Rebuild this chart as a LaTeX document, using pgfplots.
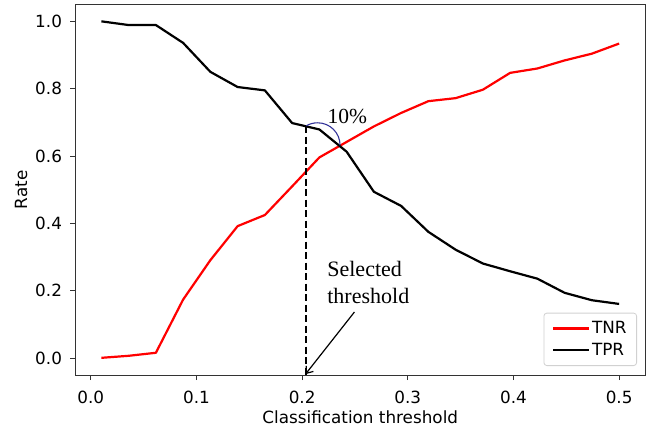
\documentclass[border=0pt]{standalone}
\usepackage{fontspec}
\setmainfont{DejaVu Sans}
\newfontfamily\annfont{Liberation Serif}
\usepackage{pgfplots}
\pgfplotsset{compat=1.18}
\usetikzlibrary{arrows.meta}

\definecolor{arcblue}{rgb}{0.2,0.2,0.6}

\begin{document}
\begin{tikzpicture}
  \begin{axis}[
    scale only axis,
    width=569.5pt, height=370.5pt,
    xmin=-0.0145, xmax=0.5245,
    ymin=-0.05, ymax=1.05,
    xtick={0,0.1,0.2,0.3,0.4,0.5},
    ytick={0,0.2,0.4,0.6,0.8,1.0},
    xticklabel style={/pgf/number format/fixed, /pgf/number format/precision=1, /pgf/number format/fixed zerofill, yshift=-7pt},
    yticklabel style={/pgf/number format/fixed, /pgf/number format/precision=1, /pgf/number format/fixed zerofill, xshift=-5pt},
    /pgf/number format/assume math mode=true,
    tick align=outside, tick pos=left,
    major tick length=5pt,
    every tick/.style={black!80, line width=0.9pt},
    axis line style={black!80, line width=0.9pt},
    ticklabel style={font=\fontsize{16.8}{19}\selectfont},
    label style={font=\fontsize{16.8}{19}\selectfont},
    xlabel={Classification threshold},
    ylabel={Rate},
    xlabel style={at={(axis description cs:0.5,0)}, anchor=base, yshift=-48pt},
    ylabel style={at={(axis description cs:-0.0957,0.5)}, anchor=center},
    legend style={at={(1,0)}, anchor=south east, xshift=-8pt, yshift=9pt,
      rounded corners=3pt, draw=black!18, line width=0.8pt,
      inner xsep=8pt, inner ysep=6.5pt,
      font=\fontsize{16.8}{19}\selectfont, row sep=4pt},
    legend cell align=left,
    legend image code/.code={\draw[#1, line width=2.2pt] (0pt,0pt) -- (36pt,0pt);},
    no markers,
  ]
  \addplot[red, line width=2.2pt, line join=round] coordinates {
    (0.010000,0.001) (0.035789,0.007) (0.061579,0.016) (0.087368,0.174)
    (0.113158,0.291) (0.138947,0.392) (0.164737,0.425) (0.190526,0.510)
    (0.216316,0.596) (0.242105,0.642) (0.267895,0.688) (0.293684,0.728)
    (0.319474,0.763) (0.345263,0.772) (0.371053,0.797) (0.396842,0.847)
    (0.422632,0.860) (0.448421,0.884) (0.474211,0.904) (0.500000,0.934)
  };
  \addlegendentry{TNR}
  \addplot[black, line width=2.2pt, line join=round] coordinates {
    (0.010000,1.000) (0.035789,0.989) (0.061579,0.989) (0.087368,0.936)
    (0.113158,0.850) (0.138947,0.805) (0.164737,0.795) (0.190526,0.698)
    (0.216316,0.679) (0.242105,0.613) (0.267895,0.494) (0.293684,0.452)
    (0.319474,0.375) (0.345263,0.322) (0.371053,0.281) (0.396842,0.258)
    (0.422632,0.236) (0.448421,0.194) (0.474211,0.172) (0.500000,0.161)
  };
  \addlegendentry{TPR}
  % annotations
  \draw[black, line width=2pt, dash pattern=on 7pt off 3.5pt] (axis cs:0.2032,0.689) -- (axis cs:0.2032,-0.05);
  \draw[arcblue, line width=1.1pt] (axis cs:0.2359,0.632) arc[start angle=0, end angle=120, radius=22.5pt];
  \draw[black, line width=1.2pt, -{Straight Barb[length=6pt, width=9pt]}] (axis cs:0.2495,0.137) -- (axis cs:0.2032,-0.0475);
  \node[anchor=base west, inner sep=0pt, font=\annfont\fontsize{21.5}{25}\selectfont] at (axis cs:0.224,0.698) {10\%};
  \node[anchor=base west, inner sep=0pt, font=\annfont\fontsize{22}{26}\selectfont] at (axis cs:0.2237,0.2412) {Selected};
  \node[anchor=base west, inner sep=0pt, font=\annfont\fontsize{22}{26}\selectfont] at (axis cs:0.2237,0.1623) {threshold};
  \end{axis}
  \pgfresetboundingbox
  \path ([shift={(-75.5pt,-54pt)}]current axis.south west) rectangle ([shift={(12pt,4.5pt)}]current axis.north east);
\end{tikzpicture}
\end{document}
